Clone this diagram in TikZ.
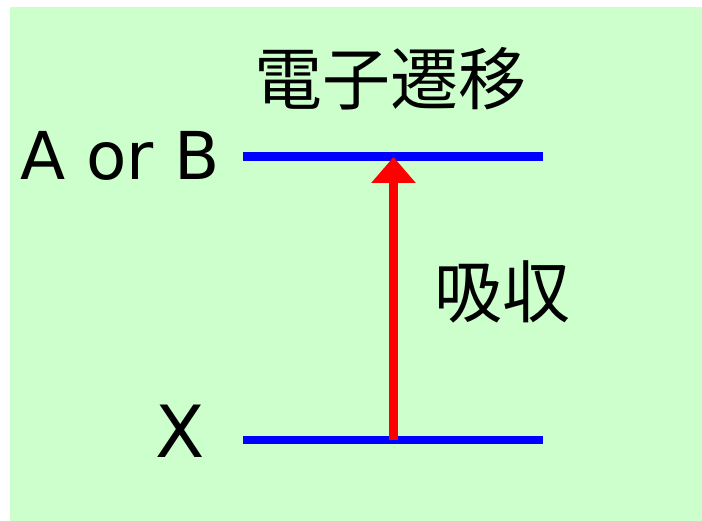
\documentclass[tikz,border=0pt]{standalone}
\usepackage{fontspec}
\setmainfont{DejaVu Sans}
\newfontfamily\cjkfont{Noto Sans CJK JP}
\usetikzlibrary{arrows.meta}
\definecolor{bggreen}{HTML}{CCFFCC}
\definecolor{levelblue}{HTML}{0000FF}
\definecolor{arrowred}{HTML}{FF0000}
\tikzset{
  level/.style={draw=levelblue, line width=8.5pt, line cap=butt},
  transition/.style={draw=arrowred, line width=8.5pt, -{Triangle[length=26pt,width=43pt]}, shorten >=0pt},
  cjklabel/.style={inner sep=0pt, font=\cjkfont\fontsize{68}{68}\selectfont, text=black},
  statelabel/.style={inner sep=0pt, font=\fontsize{66}{66}\selectfont, text=black}
}
\begin{document}
\begin{tikzpicture}[x=1pt,y=-1pt]
\useasboundingbox (0,0) rectangle (702,521);
\fill[bggreen] (10,7) rectangle (702,521);
\coordinate (upL) at (243,156.5);
\coordinate (upR) at (543,156.5);
\coordinate (loL) at (243,440);
\coordinate (loR) at (543,440);
\coordinate (arrowStart) at (393.5,440);
\coordinate (arrowEnd) at (393.5,157);
\draw[level] (upL) -- (upR);
\draw[level] (loL) -- (loR);
\draw[transition] (arrowStart) -- (arrowEnd);
\node[cjklabel] (title) at (390,79) {電子遷移};
\node[cjklabel] (absorb) at (502,292) {吸収};
\node[statelabel] (ab) at (120,156) {A or B};
\node[statelabel, font=\fontsize{72}{72}\selectfont] (x) at (180,431) {X};
\end{tikzpicture}
\end{document}
